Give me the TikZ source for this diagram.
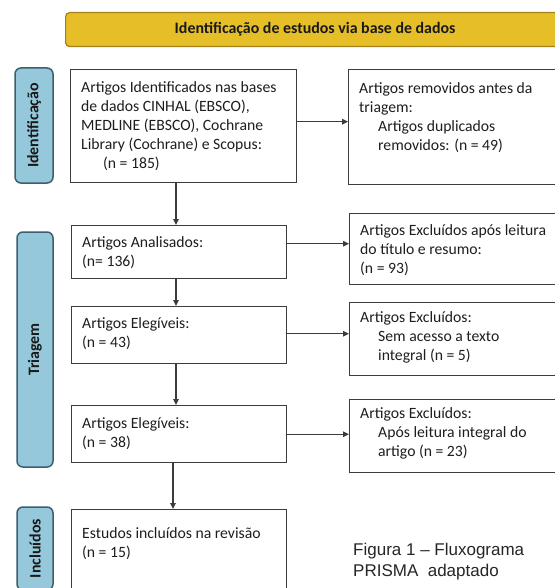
\documentclass[tikz,border=0pt]{standalone}
\usepackage{fontspec}
\setmainfont{Carlito}
\newfontfamily\capfont{Liberation Sans}
\usetikzlibrary{arrows.meta}
\definecolor{gold}{RGB}{229,190,40}
\definecolor{golddk}{RGB}{165,130,25}
\definecolor{lblue}{RGB}{150,200,220}
\definecolor{lbluedk}{RGB}{58,95,110}
\definecolor{linec}{RGB}{60,60,60}
\definecolor{txtc}{RGB}{30,30,30}
\newcommand\fbody[4]{\begin{minipage}[t][#2][t]{#1}\setlength{\parindent}{0pt}\setlength{\leftskip}{10.5pt}\rule{0pt}{#3}#4\end{minipage}}
\tikzset{
  hdr/.style={draw=golddk, fill=gold, rounded corners=4pt, line width=1.2pt, inner sep=0pt,
    font=\bfseries\fontsize{15.9}{19}\selectfont, text=black!90},
  lbl/.style={draw=lbluedk, fill=lblue, rounded corners=6pt, line width=1.5pt, inner sep=0pt,
    rotate=90, font=\bfseries\fontsize{15.9}{19}\selectfont, text=black!90},
  flow/.style={draw=linec, line width=1.4pt, fill=white, inner sep=0pt, anchor=north west,
    font=\fontsize{15.7}{19}\selectfont, text=txtc},
  arr/.style={draw=linec, line width=1.3pt, -{Triangle[length=6pt,width=5.5pt]}}
}
\begin{document}
\begin{tikzpicture}[x=1pt,y=-1pt]
\useasboundingbox (0,0) rectangle (554,588);
\fill[white] (0,0) rectangle (554,588);
% header
\node[hdr, minimum width=499pt, minimum height=34pt, anchor=north west] (hdr) at (65,12) {Identificação de estudos via base de dados};
% phase labels
\node[lbl, minimum width=115pt, minimum height=38pt] (lid) at (34,125.5) {Identificação};
\node[lbl, minimum width=235pt, minimum height=36pt] (ltr) at (35,349.5) {Triagem};
\node[lbl, minimum width=83pt, minimum height=36pt] (lin) at (35,548.5) {Incluídos};
% boxes
\node[flow] (b1) at (70,69) {\fbody{226pt}{113pt}{23.3pt}{Artigos Identificados nas bases\\ de dados CINHAL (EBSCO),\\ MEDLINE (EBSCO), Cochrane\\ Library (Cochrane) e Scopus:\\ \hspace*{22pt}(n = 185)}};
\node[flow] (r1) at (348,69) {\fbody{216pt}{115pt}{24.3pt}{Artigos removidos antes da\\ triagem:\\ \hspace*{19pt}Artigos duplicados\\ \hspace*{19pt}removidos: (n = 49)}};
\node[flow] (a) at (71,225) {\fbody{215pt}{53pt}{21.7pt}{Artigos Analisados:\\ (n= 136)}};
\node[flow] (r2) at (349,213) {\fbody{215pt}{71pt}{22pt}{Artigos Excluídos após leitura\\ do título e resumo:\\ (n = 93)}};
\node[flow] (e1) at (71,306) {\fbody{215pt}{57pt}{22pt}{Artigos Elegíveis:\\ (n = 43)}};
\node[flow] (r3) at (349,302) {\fbody{215pt}{73pt}{19.7pt}{Artigos Excluídos:\\ \hspace*{18pt}Sem acesso a texto\\ \hspace*{18pt}integral (n = 5)}};
\node[flow] (e2) at (71,405) {\fbody{215pt}{57pt}{23pt}{Artigos Elegíveis:\\ (n = 38)}};
\node[flow] (r4) at (349,399) {\fbody{215pt}{73pt}{19pt}{Artigos Excluídos:\\ \hspace*{18pt}Após leitura integral do\\ \hspace*{18pt}artigo (n = 23)}};
\node[flow] (inc) at (71,509) {\fbody{215pt}{91pt}{29pt}{Estudos incluídos na revisão\\ (n = 15)}};
% caption
\node[anchor=north west, inner sep=0pt, align=left, text=black!85,
  font=\capfont\fontsize{17}{21.5}\selectfont] (cap) at (353,542.5) {Figura 1 – Fluxograma\\PRISMA\ \ adaptado};
% connectors
\coordinate (vx) at (176,0);
\draw[arr] (b1.south -| vx) -- (a.north -| vx);
\draw[arr] (a.south -| vx) -- (e1.north -| vx);
\draw[arr] (e1.south -| vx) -- (e2.north -| vx);
\draw[arr] ([xshift=-3pt]e2.south -| vx) -- ([xshift=-3pt]inc.north -| vx);
\draw[arr] ([yshift=4.5pt]b1.east) -- ([yshift=4.5pt]b1.east -| r1.west);
\draw[arr] ([yshift=8.5pt]a.east) -- ([yshift=8.5pt]a.east -| r2.west);
\draw[arr] ([yshift=1.5pt]e1.east) -- ([yshift=1.5pt]e1.east -| r3.west);
\draw[arr] (e2.east) -- (e2.east -| r4.west);
\end{tikzpicture}
\end{document}
